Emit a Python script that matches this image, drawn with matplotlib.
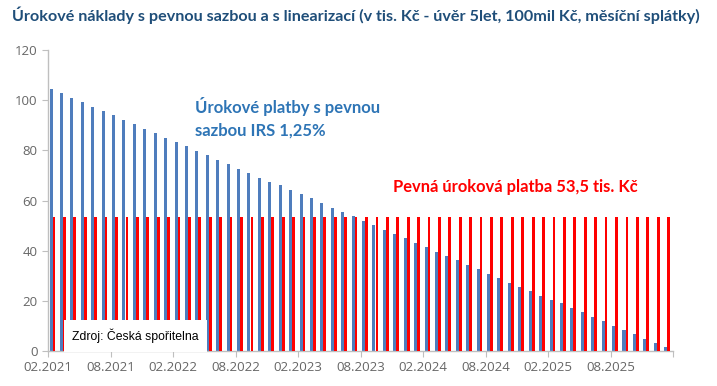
import numpy as np
import matplotlib.pyplot as plt

# data
urok_irs = [104.4, 102.7, 100.8, 99.2, 97.3, 95.6, 93.9, 92.1, 90.3, 88.7,
            86.8, 85.1, 83.3, 81.6, 79.7, 78.0, 76.3, 74.4, 72.7, 70.9,
            69.1, 67.5, 66.1, 64.3, 62.7, 60.8, 59.1, 57.2, 55.5, 53.7,
            52.0, 50.3, 48.4, 46.7, 44.9, 43.2, 41.3, 39.6, 37.9, 36.1,
            34.3, 32.5, 30.8, 29.1, 27.3, 25.5, 23.9, 22.0, 20.3, 19.1,
            17.2, 15.5, 13.7, 12.0, 10.1, 8.4, 6.7, 4.9, 3.1, 1.5]
pevna_platba = [53.5] * 60
popisky = ["02.2021", "08.2021", "02.2022", "08.2022", "02.2023",
           "08.2023", "02.2024", "08.2024", "02.2025", "08.2025"]

modra = "#4F7DBD"
cervena = "#FF0000"

fig = plt.figure(figsize=(7.17, 3.86), dpi=100)
ax = fig.add_axes([48 / 717, 35 / 386, 625 / 717, 301 / 386])

x = np.arange(len(urok_irs))
ax.bar(x + 0.15, urok_irs, width=0.29, align="edge", color=modra, zorder=2)
ax.bar(x + 0.44, pevna_platba, width=0.27, align="edge", color=cervena, zorder=3)

ax.set_xlim(0, len(urok_irs))
ax.set_ylim(0, 120)
ax.set_yticks(range(0, 121, 20))
ax.set_xticks(range(0, 61, 6))
ax.set_xticklabels(popisky + [""])

for s in ["top", "right"]:
    ax.spines[s].set_visible(False)
for s in ["left", "bottom"]:
    ax.spines[s].set_color("#BFBFBF")
    ax.spines[s].set_linewidth(1)
ax.tick_params(axis="both", colors="#BFBFBF", length=4, labelcolor="#666666",
               labelsize=9.5)
for lab in ax.get_xticklabels() + ax.get_yticklabels():
    lab.set_family("Open Sans")

fig.text(12 / 717, 1 - 15 / 386,
         "Úrokové náklady s pevnou sazbou a s linearizací (v tis. Kč - úvěr 5let, 100mil Kč, měsíční splátky)",
         family="Lato", fontweight="bold", fontsize=11.6, color="#1F4E79",
         ha="left", va="center")

ax.text(14.1, 93, "Úrokové platby s pevnou\nsazbou IRS 1,25%", family="Lato",
        fontweight="bold", fontsize=12.0, color="#2E75B6", ha="left",
        va="center", linespacing=1.5)
ax.text(33.1, 65.5, "Pevná úroková platba 53,5 tis. Kč", family="Lato",
        fontweight="bold", fontsize=11.9, color=cervena, ha="left", va="center")

ax.text(2.3, 6, "Zdroj: Česká spořitelna", family="Liberation Sans", fontsize=8.8,
        color="black", ha="left", va="center", zorder=5,
        bbox=dict(facecolor="white", edgecolor="none", pad=6))

fig.savefig("out.png", dpi=100)
